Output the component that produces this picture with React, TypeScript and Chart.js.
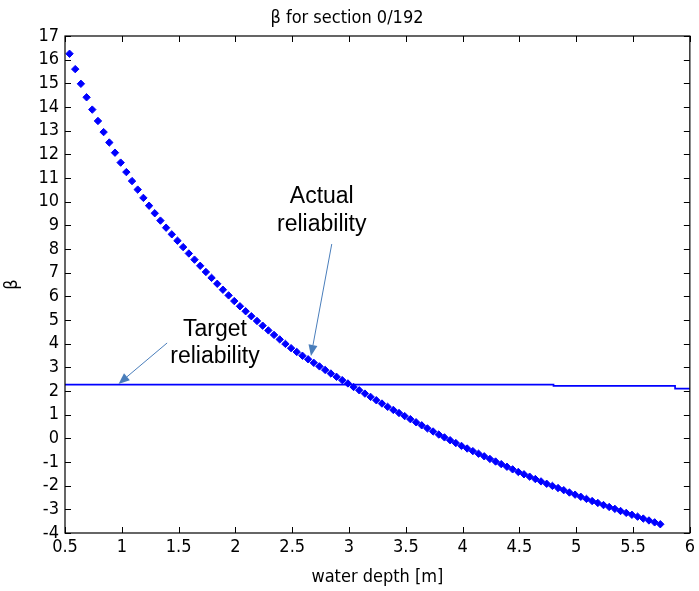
import React, { useEffect, useRef } from "react";
import { Chart, registerables } from "chart.js";

Chart.register(...registerables);

// ---- data ----
const depthX = [
  0.54, 0.59, 0.64, 0.69, 0.74, 0.79, 0.84, 0.89, 0.94, 0.99,
  1.04, 1.09, 1.14, 1.19, 1.24, 1.29, 1.34, 1.39, 1.44, 1.49,
  1.54, 1.59, 1.64, 1.69, 1.74, 1.79, 1.84, 1.89, 1.94, 1.99,
  2.04, 2.09, 2.14, 2.19, 2.24, 2.29, 2.34, 2.39, 2.44, 2.49,
  2.54, 2.59, 2.64, 2.69, 2.74, 2.79, 2.84, 2.89, 2.94, 2.99,
  3.04, 3.09, 3.14, 3.19, 3.24, 3.29, 3.34, 3.39, 3.44, 3.49,
  3.54, 3.59, 3.64, 3.69, 3.74, 3.79, 3.84, 3.89, 3.94, 3.99,
  4.04, 4.09, 4.14, 4.19, 4.24, 4.29, 4.34, 4.39, 4.44, 4.49,
  4.54, 4.59, 4.64, 4.69, 4.74, 4.79, 4.84, 4.89, 4.94, 4.99,
  5.04, 5.09, 5.14, 5.19, 5.24, 5.29, 5.34, 5.39, 5.44, 5.49,
  5.54, 5.59, 5.64, 5.69, 5.74,
];
const betaActual = [
  16.25, 15.6, 14.98, 14.41, 13.89, 13.41, 12.94, 12.5, 12.07, 11.65,
  11.25, 10.87, 10.51, 10.16, 9.83, 9.51, 9.2, 8.9, 8.62, 8.35,
  8.08, 7.81, 7.55, 7.29, 7.03, 6.78, 6.53, 6.28, 6.04, 5.8,
  5.58, 5.37, 5.16, 4.96, 4.76, 4.56, 4.37, 4.18, 3.99, 3.81,
  3.65, 3.49, 3.34, 3.19, 3.04, 2.89, 2.74, 2.6, 2.46, 2.32,
  2.17, 2.03, 1.89, 1.75, 1.61, 1.47, 1.33, 1.2, 1.07, 0.94,
  0.81, 0.68, 0.55, 0.42, 0.29, 0.16, 0.04, -0.08, -0.2, -0.32,
  -0.43, -0.54, -0.65, -0.76, -0.87, -0.98, -1.09, -1.2, -1.31, -1.42,
  -1.52, -1.62, -1.72, -1.82, -1.92, -2.01, -2.1, -2.19, -2.29, -2.38,
  -2.47, -2.56, -2.65, -2.73, -2.82, -2.9, -2.98, -3.07, -3.15, -3.23,
  -3.31, -3.39, -3.47, -3.55, -3.63,
];
const targetX = [0.5, 4.8, 5.87, 6.0];
const betaTarget = [2.27, 2.22, 2.1, 2.1];

const titleText = "β for section 0/192";
const xAxisLabel = "water depth [m]";
const yAxisLabel = "β";

// annotation texts (data coordinates)
const annotationTexts = [
  { text: "Actual", x: 2.76, y: 10.22 },
  { text: "reliability", x: 2.76, y: 9.02 },
  { text: "Target", x: 1.82, y: 4.6 },
  { text: "reliability", x: 1.82, y: 3.46 },
];
const annotationArrows = [
  { x1: 2.848, y1: 8.21, x2: 2.665, y2: 3.48 },
  { x1: 1.399, y1: 4.03, x2: 0.971, y2: 2.3 },
];

const AXIS_FONT = "'Liberation Sans Narrow', 'DejaVu Sans Condensed', 'Liberation Sans', sans-serif";
const NOTE_FONT = "'Liberation Sans', Arial, sans-serif";

const fmt = (v: any) => `${+Number(v).toFixed(2)}`;

const framePlugin = {
  id: "matlabFrame",
  afterDatasetsDraw(chart: any) {
    const { ctx, chartArea } = chart;
    const xs = chart.scales.x;
    const ys = chart.scales.y;
    const { left, right, top, bottom } = chartArea;
    ctx.save();
    ctx.strokeStyle = "#000";
    ctx.lineWidth = 1.2;
    ctx.strokeRect(left, top, right - left, bottom - top);
    const tl = 6;
    ctx.lineWidth = 1;
    ctx.beginPath();
    xs.ticks.forEach((t: any) => {
      const px = Math.round(xs.getPixelForValue(t.value)) + 0.5;
      ctx.moveTo(px, bottom);
      ctx.lineTo(px, bottom - tl);
      ctx.moveTo(px, top);
      ctx.lineTo(px, top + tl);
    });
    ys.ticks.forEach((t: any) => {
      const py = Math.round(ys.getPixelForValue(t.value)) + 0.5;
      ctx.moveTo(left, py);
      ctx.lineTo(left + tl, py);
      ctx.moveTo(right, py);
      ctx.lineTo(right - tl, py);
    });
    ctx.stroke();

    // annotations
    ctx.fillStyle = "#000";
    ctx.font = `23px ${NOTE_FONT}`;
    ctx.textAlign = "center";
    ctx.textBaseline = "middle";
    annotationTexts.forEach((a) => {
      ctx.fillText(a.text, xs.getPixelForValue(a.x), ys.getPixelForValue(a.y));
    });
    ctx.strokeStyle = "#4a7ebb";
    ctx.fillStyle = "#4a7ebb";
    ctx.lineWidth = 1;
    annotationArrows.forEach((a) => {
      const x1 = xs.getPixelForValue(a.x1);
      const y1 = ys.getPixelForValue(a.y1);
      const x2 = xs.getPixelForValue(a.x2);
      const y2 = ys.getPixelForValue(a.y2);
      const ang = Math.atan2(y2 - y1, x2 - x1);
      const hl = 11;
      const hw = 4.5;
      const bx = x2 - hl * Math.cos(ang);
      const by = y2 - hl * Math.sin(ang);
      ctx.beginPath();
      ctx.moveTo(x1, y1);
      ctx.lineTo(bx, by);
      ctx.stroke();
      ctx.beginPath();
      ctx.moveTo(x2, y2);
      ctx.lineTo(bx + hw * Math.sin(ang), by - hw * Math.cos(ang));
      ctx.lineTo(bx - hw * Math.sin(ang), by + hw * Math.cos(ang));
      ctx.closePath();
      ctx.fill();
    });
    ctx.restore();
  },
};

export default function App() {
  const ref = useRef<HTMLCanvasElement | null>(null);
  useEffect(() => {
    if (!ref.current) return;
    const actualPts = depthX.map((x, i) => ({ x, y: betaActual[i] }));
    const targetPts = targetX.map((x, i) => ({ x, y: betaTarget[i] }));
    const chart = new Chart(ref.current, {
      type: "scatter",
      data: {
        datasets: [
          {
            label: "Target reliability",
            data: targetPts,
            showLine: true,
            stepped: "before",
            borderColor: "#0000ff",
            borderWidth: 1.7,
            pointRadius: 0,
            fill: false,
          },
          {
            label: "Actual reliability",
            data: actualPts,
            showLine: false,
            pointStyle: "rectRot",
            pointRadius: 3.7,
            pointBorderWidth: 1,
            pointBackgroundColor: "#0000ff",
            pointBorderColor: "#0000ff",
          },
        ],
      } as any,
      options: {
        responsive: false,
        animation: false,
        devicePixelRatio: 1,
        layout: { padding: { left: 0, right: 5, top: 0, bottom: 0 } },
        plugins: {
          legend: { display: false },
          tooltip: { enabled: false },
          title: {
            display: true,
            text: titleText,
            color: "#000",
            font: { family: AXIS_FONT, size: 18, weight: "normal", lineHeight: 1.2 },
            padding: { top: 8, bottom: 6.4 },
          },
        },
        scales: {
          x: {
            type: "linear",
            min: 0.5,
            max: 6,
            grid: { display: false, drawTicks: false },
            border: { display: false },
            ticks: {
              stepSize: 0.5,
              color: "#000",
              padding: 4,
              maxRotation: 0,
              autoSkip: false,
              callback: fmt,
              font: { family: AXIS_FONT, size: 18 },
            },
            title: {
              display: true,
              text: xAxisLabel,
              color: "#000",
              font: { family: AXIS_FONT, size: 18 },
              padding: { top: 0, bottom: 3 },
            },
            afterFit(s: any) {
              s.height = 58;
            },
          },
          y: {
            type: "linear",
            min: -4,
            max: 17,
            grid: { display: false, drawTicks: false },
            border: { display: false },
            ticks: {
              stepSize: 1,
              color: "#000",
              padding: 6,
              autoSkip: false,
              callback: fmt,
              font: { family: AXIS_FONT, size: 18 },
            },
            title: {
              display: true,
              text: yAxisLabel,
              color: "#000",
              font: { family: AXIS_FONT, size: 18 },
              padding: { top: 2, bottom: 0 },
            },
            afterFit(s: any) {
              s.width = 65;
            },
          },
        },
      } as any,
      plugins: [framePlugin],
    });
    return () => chart.destroy();
  }, []);
  return (
    <div style={{ position: "absolute", left: 0, top: 0, width: 699, height: 591, background: "#fff" }}>
      <canvas ref={ref} width={699} height={591} />
    </div>
  );
}
